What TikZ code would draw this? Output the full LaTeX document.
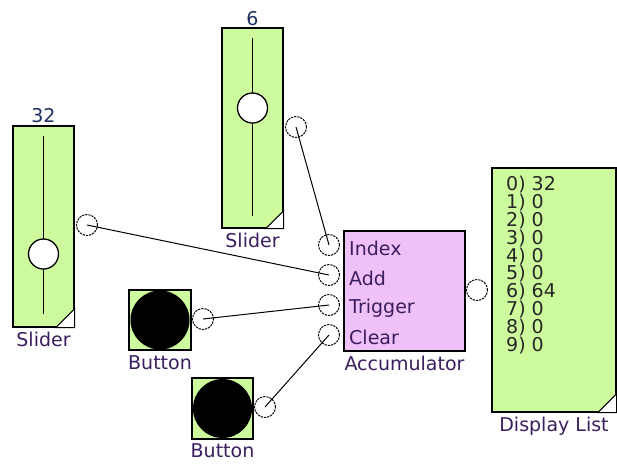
\documentclass[tikz,border=0pt]{standalone}
\usepackage{fontspec}
\setmainfont{DejaVu Sans}
\usetikzlibrary{positioning}
\definecolor{blockgreen}{HTML}{CCFA9C}
\definecolor{accpink}{HTML}{F0C0F8}
\definecolor{lblcolor}{HTML}{3B1E5E}
\definecolor{valcolor}{HTML}{1F2F5F}
\newcommand{\blkfont}{\fontsize{19}{17.8}\selectfont}

\begin{document}
\begin{tikzpicture}[
  x=1pt, y=-1pt,
  font=\blkfont,
  blk/.style={draw, line width=1.3pt, inner sep=0pt},
  slider/.style={blk, fill=blockgreen, minimum width=61pt, minimum height=200pt},
  btn/.style={blk, fill=blockgreen, minimum width=61pt, minimum height=61pt},
  knob/.style={circle, draw, line width=1.3pt, fill=white, minimum size=30pt, inner sep=0pt},
  port/.style={circle, draw, line width=1pt, fill=white, minimum size=21pt,
               inner sep=0pt, dash pattern=on 2.2pt off 1pt},
  lbl/.style={text=lblcolor, inner sep=1pt},
  ttl/.style={text=valcolor, inner sep=1pt},
  wire/.style={line width=1pt},
]
  \useasboundingbox (0,0) rectangle (617,464);

  % ── Sliders ─────────────────────
  \node[slider, minimum height=201pt,
        label={[lbl, yshift=-3pt]below:Slider},
        label={[ttl, yshift=1pt]above:32}] (sl1) at (43.5,226.5) {};
  \draw[line width=1.4pt] ([yshift=-11pt]sl1.north) -- ([yshift=14pt]sl1.south);
  \node[knob] (kn1) at (43.5,254) {};
  \draw[line width=1pt, fill=white] ([xshift=-19pt]sl1.south east) -- (sl1.south east)
        -- ([yshift=19pt]sl1.south east) -- cycle;

  \node[slider,
        label={[lbl, yshift=-3pt]below:Slider},
        label={[ttl]above:6}] (sl2) at (252.5,128) {};
  \draw[line width=1.4pt] ([yshift=-11pt]sl2.north) -- ([yshift=13pt]sl2.south);
  \node[knob] (kn2) at (252.5,108) {};
  \draw[line width=1pt, fill=white] ([xshift=-18pt]sl2.south east) -- (sl2.south east)
        -- ([yshift=18pt]sl2.south east) -- cycle;

  % ── Buttons ─────────────────────
  \node[btn, minimum width=62pt, minimum height=60pt,
        label={[lbl, yshift=-4pt]below:Button}] (bt1) at (160,320) {};
  \fill (bt1.center) circle (29.5pt);
  \node[btn, label={[lbl, yshift=-3pt]below:Button}] (bt2) at (222.5,408.5) {};
  \fill (bt2.center) circle (29.5pt);

  % ── Accumulator ─────────────────
  \node[blk, fill=accpink, minimum width=121pt, minimum height=120pt,
        label={[lbl, yshift=-3pt]below:Accumulator}] (acc) at (404.5,291) {};
  \node[lbl, anchor=west] (lidx) at (348,248) {Index};
  \node[lbl, anchor=west] (ladd) at (348,278) {Add};
  \node[lbl, anchor=west] (ltrg) at (348,308) {Trigger};
  \node[lbl, anchor=west] (lclr) at (348,337) {Clear};

  % ── Display List ────────────────
  \node[blk, fill=blockgreen, minimum width=124pt, minimum height=244pt,
        label={[lbl, yshift=-3pt]below:Display List}] (disp) at (554,290) {};
  \draw[line width=1pt, fill=white] ([xshift=-19pt]disp.south east) -- (disp.south east)
        -- ([yshift=19pt]disp.south east) -- cycle;
  \foreach \v [count=\i from 0] in {32,0,0,0,0,0,64,0,0,0}
    \node[anchor=west, text=black!85, inner sep=0pt] (row\i) at (506,185+17.8*\i) {\i) \v};

  % ── Ports ───────────────────────
  \node[port] (p-sl1) at (87,225) {};
  \node[port] (p-sl2) at (296,127) {};
  \node[port] (p-bt1) at (203,319) {};
  \node[port] (p-bt2) at (265,407) {};
  \node[port] (p-idx) at (329,245) {};
  \node[port] (p-add) at (329,275) {};
  \node[port] (p-trg) at (329,305) {};
  \node[port] (p-clr) at (329,335) {};
  \node[port] (p-out) at (477,290) {};

  % ── Wires ───────────────────────
  \draw[wire] (p-sl1.center) -- (p-add.center);
  \draw[wire] (p-sl2.center) -- (p-idx.center);
  \draw[wire] (p-bt1.center) -- (p-trg.center);
  \draw[wire] (p-bt2.center) -- (p-clr.center);
\end{tikzpicture}
\end{document}
